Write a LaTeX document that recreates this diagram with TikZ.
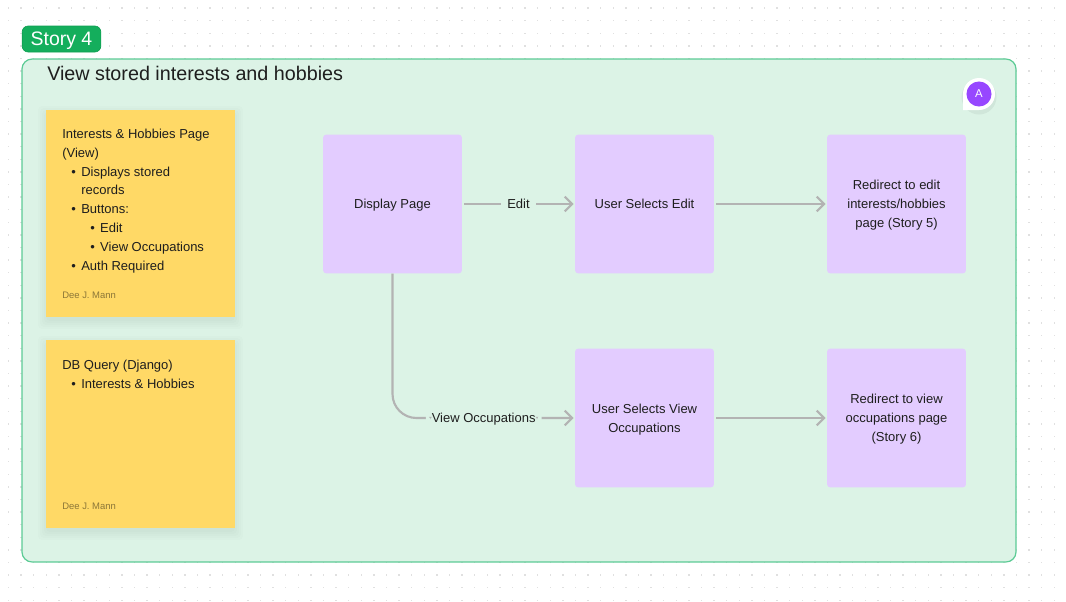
\documentclass[tikz,border=0pt]{standalone}
\usepackage{fontspec}
\setmainfont{Liberation Sans}
\usetikzlibrary{arrows.meta}
\definecolor{frameback}{HTML}{DCF3E6}
\definecolor{frameline}{HTML}{5CCB95}
\definecolor{taggreen}{HTML}{14AE5C}
\definecolor{tagline}{HTML}{0F9F52}
\definecolor{flowpurple}{HTML}{E3CCFF}
\definecolor{stickyyellow}{HTML}{FFD966}
\definecolor{linegrey}{HTML}{B3B3B3}
\definecolor{inkdark}{HTML}{1E1E1E}
\definecolor{avatarpurple}{HTML}{9747FF}
\newcommand{\itemone}[1]{\hspace*{6.8pt}\makebox[7.45pt][l]{\textbullet}#1}
\newcommand{\itemtwo}[1]{\hspace*{21pt}\makebox[7.45pt][l]{\textbullet}#1}
\newcommand{\flowtext}[1]{\raisebox{-0.75pt}[\height][\depth]{\begin{tabular}{@{}c@{}}#1\end{tabular}}}
\tikzset{
	textnode/.style = {inner sep=0pt, text=inkdark, font=\fontsize{9.75}{14.2}\selectfont},
	flow_n/.style = {textnode, fill=flowpurple, rounded corners=2.2pt,
		minimum width=104pt, minimum height=104pt},% flow box
	sticky_n/.style = {fill=stickyyellow, inner sep=0pt, minimum width=142pt},% sticky note
	sticky_s/.style = {fill=black, fill opacity=.012, rounded corners=3pt},% sticky shadow
	sticky_t/.style = {textnode, align=left, anchor=north west},% sticky text
	sticky_a/.style = {inner sep=0pt, anchor=west, text=black!45!stickyyellow,
		font=\fontsize{7.1}{9}\selectfont},% sticky author
	edge_l/.style = {textnode, fill=frameback, inner xsep=4.5pt, inner ysep=3pt},% edge label
	edge_n/.style = {draw=linegrey, line width=1.6pt, shorten >=1pt, ->},% connector
	dot_n/.style = {fill=black!12}% canvas dot
}

\begin{document}
\begin{tikzpicture}[x=0.75pt,y=-0.75pt,>={Straight Barb[length=5.5pt,width=11pt]}]
	\useasboundingbox (0,0) rectangle (1066,601);
	% dotted canvas
	\foreach \ix in {0,...,84}
		\foreach \iy in {0,...,47}
			\fill[dot_n] (8.4+12.6*\ix-0.7,8+12.6*\iy-0.7) rectangle ++(1.4,1.4);
	\node[draw=frameline, fill=frameback, line width=0.9pt, rounded corners=7.5pt, minimum width=745.5pt,
		minimum height=377.2pt, inner sep=0pt] (frame) at (519,310.5) {};
	\node[draw=tagline, fill=taggreen, line width=0.5pt, rounded corners=4.5pt, minimum width=59pt, minimum height=19.5pt,
		inner sep=0pt, text=white, font=\fontsize{14.6}{16}\selectfont] (tag) at (61.5,39) {\raisebox{-1.5pt}[\height][\depth]{Story 4}};
	\node[textnode, anchor=base west, font=\fontsize{14.8}{16}\selectfont] (title) at (47,80) {View stored interests and hobbies};
	% sticky notes
	\foreach \sg in {0,2,4,6,8}{
		\fill[sticky_s] (46-\sg,110-\sg+4) rectangle (235+\sg,317+\sg+4);
		\fill[sticky_s] (46-\sg,340-\sg+4) rectangle (235+\sg,528+\sg+4);
	}
	\node[sticky_n, minimum height=155.5pt] (sticky_page) at (140.5,213.5) {};
	\node[sticky_t] (page_text) at (62,128.5) {Interests \& Hobbies Page\\(View)\\\itemone{Displays stored}\\
		\hspace*{14.25pt}records\\\itemone{Buttons:}\\\itemtwo{Edit}\\\itemtwo{View Occupations}\\\itemone{Auth Required}};
	\node[sticky_a] (page_author) at (62,295) {Dee J. Mann};
	\node[sticky_n, minimum height=141.5pt] (sticky_db) at (140.5,434) {};
	\node[sticky_t] (db_text) at (62,359.5) {DB Query (Django)\\\itemone{Interests \& Hobbies}};
	\node[sticky_a] (db_author) at (62,506) {Dee J. Mann};
	% avatar
	\fill[black, fill opacity=.05] (979,97) circle (17.5);
	\fill[white] (963,110) -- (963,94) arc (180:450:16) -- cycle;
	\node[circle, fill=avatarpurple, minimum size=18.8pt, inner sep=0pt, text=white,
		font=\fontsize{8.5}{10}\selectfont] (avatar) at (979,94) {A};
	% flow boxes
	\node[flow_n] (display) at (392.5,204) {\flowtext{Display Page}};
	\node[flow_n] (sel_edit) at (644.5,204) {\flowtext{User Selects Edit}};
	\node[flow_n] (red_edit) at (896.5,204) {\flowtext{Redirect to edit\\interests/hobbies\\page (Story 5)}};
	\node[flow_n] (sel_view) at (644.5,418) {\flowtext{User Selects View\\Occupations}};
	\node[flow_n] (red_view) at (896.5,418) {\flowtext{Redirect to view\\occupations page\\(Story 6)}};
	% connectors
	\draw[edge_n, shorten <=1.5pt] (display) -- node[edge_l, pos=.5] (lab_edit) {Edit} (sel_edit);
	\draw[edge_n, shorten <=1.5pt] (sel_edit) -- (red_edit);
	\draw[edge_n, rounded corners=18pt] (display.south) |- node[edge_l, pos=.75, yshift=-0.75pt] (lab_view) {View Occupations} (sel_view.west);
	\draw[edge_n, shorten <=1.5pt] (sel_view) -- (red_view);
\end{tikzpicture}
\end{document}
